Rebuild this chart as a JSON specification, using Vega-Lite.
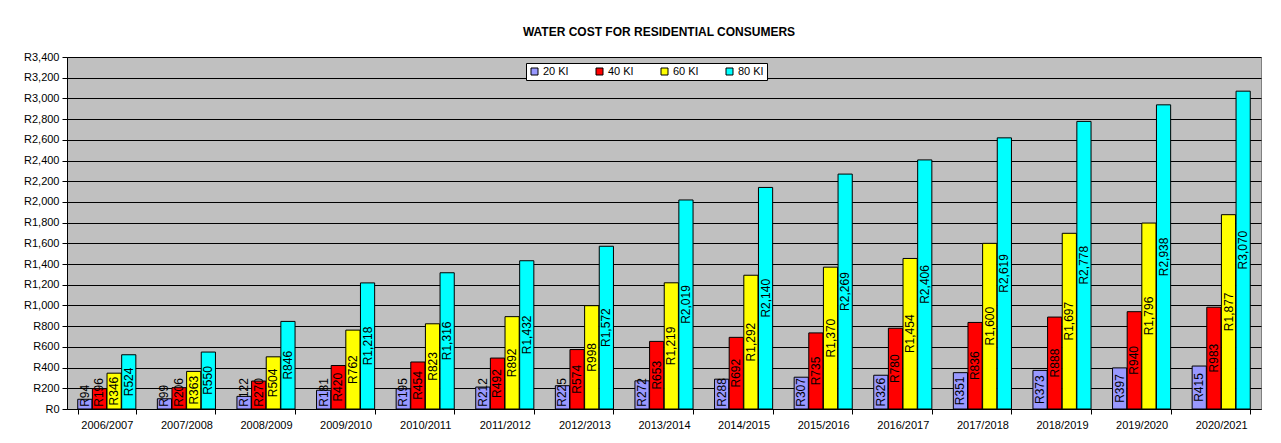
{
  "$schema": "https://vega.github.io/schema/vega-lite/v6.json",
  "width": 1194,
  "height": 352,
  "autosize": {"type": "none"},
  "padding": {"left": 67, "top": 57, "right": 20, "bottom": 34},
  "background": "white",
  "title": {"text": "WATER COST FOR RESIDENTIAL CONSUMERS", "font": "Liberation Sans", "fontSize": 12, "fontWeight": "bold", "color": "black", "offset": 12, "dx": -5},
  "config": {
    "locale": {"number": {"decimal": ".", "thousands": ",", "grouping": [3], "currency": ["R", ""]}},
    "view": {"fill": "#C0C0C0", "stroke": "#808080"},
    "font": "Liberation Sans"
  },
  "data": {"values": [
    {"year": "2006/2007", "series": "20 Kl", "value": 94},
    {"year": "2006/2007", "series": "40 Kl", "value": 196},
    {"year": "2006/2007", "series": "60 Kl", "value": 346},
    {"year": "2006/2007", "series": "80 Kl", "value": 524},
    {"year": "2007/2008", "series": "20 Kl", "value": 99},
    {"year": "2007/2008", "series": "40 Kl", "value": 206},
    {"year": "2007/2008", "series": "60 Kl", "value": 363},
    {"year": "2007/2008", "series": "80 Kl", "value": 550},
    {"year": "2008/2009", "series": "20 Kl", "value": 122},
    {"year": "2008/2009", "series": "40 Kl", "value": 270},
    {"year": "2008/2009", "series": "60 Kl", "value": 504},
    {"year": "2008/2009", "series": "80 Kl", "value": 846},
    {"year": "2009/2010", "series": "20 Kl", "value": 181},
    {"year": "2009/2010", "series": "40 Kl", "value": 420},
    {"year": "2009/2010", "series": "60 Kl", "value": 762},
    {"year": "2009/2010", "series": "80 Kl", "value": 1218},
    {"year": "2010/2011", "series": "20 Kl", "value": 195},
    {"year": "2010/2011", "series": "40 Kl", "value": 454},
    {"year": "2010/2011", "series": "60 Kl", "value": 823},
    {"year": "2010/2011", "series": "80 Kl", "value": 1316},
    {"year": "2011/2012", "series": "20 Kl", "value": 212},
    {"year": "2011/2012", "series": "40 Kl", "value": 492},
    {"year": "2011/2012", "series": "60 Kl", "value": 892},
    {"year": "2011/2012", "series": "80 Kl", "value": 1432},
    {"year": "2012/2013", "series": "20 Kl", "value": 225},
    {"year": "2012/2013", "series": "40 Kl", "value": 574},
    {"year": "2012/2013", "series": "60 Kl", "value": 998},
    {"year": "2012/2013", "series": "80 Kl", "value": 1572},
    {"year": "2013/2014", "series": "20 Kl", "value": 272},
    {"year": "2013/2014", "series": "40 Kl", "value": 653},
    {"year": "2013/2014", "series": "60 Kl", "value": 1219},
    {"year": "2013/2014", "series": "80 Kl", "value": 2019},
    {"year": "2014/2015", "series": "20 Kl", "value": 288},
    {"year": "2014/2015", "series": "40 Kl", "value": 692},
    {"year": "2014/2015", "series": "60 Kl", "value": 1292},
    {"year": "2014/2015", "series": "80 Kl", "value": 2140},
    {"year": "2015/2016", "series": "20 Kl", "value": 307},
    {"year": "2015/2016", "series": "40 Kl", "value": 735},
    {"year": "2015/2016", "series": "60 Kl", "value": 1370},
    {"year": "2015/2016", "series": "80 Kl", "value": 2269},
    {"year": "2016/2017", "series": "20 Kl", "value": 326},
    {"year": "2016/2017", "series": "40 Kl", "value": 780},
    {"year": "2016/2017", "series": "60 Kl", "value": 1454},
    {"year": "2016/2017", "series": "80 Kl", "value": 2406},
    {"year": "2017/2018", "series": "20 Kl", "value": 351},
    {"year": "2017/2018", "series": "40 Kl", "value": 836},
    {"year": "2017/2018", "series": "60 Kl", "value": 1600},
    {"year": "2017/2018", "series": "80 Kl", "value": 2619},
    {"year": "2018/2019", "series": "20 Kl", "value": 373},
    {"year": "2018/2019", "series": "40 Kl", "value": 888},
    {"year": "2018/2019", "series": "60 Kl", "value": 1697},
    {"year": "2018/2019", "series": "80 Kl", "value": 2778},
    {"year": "2019/2020", "series": "20 Kl", "value": 397},
    {"year": "2019/2020", "series": "40 Kl", "value": 940},
    {"year": "2019/2020", "series": "60 Kl", "value": 1796},
    {"year": "2019/2020", "series": "80 Kl", "value": 2938},
    {"year": "2020/2021", "series": "20 Kl", "value": 415},
    {"year": "2020/2021", "series": "40 Kl", "value": 983},
    {"year": "2020/2021", "series": "60 Kl", "value": 1877},
    {"year": "2020/2021", "series": "80 Kl", "value": 3070}
  ]},
  "encoding": {
    "x": {
      "field": "year", "type": "nominal",
      "scale": {"paddingInner": 0.27, "paddingOuter": 0.135},
      "axis": {"title": null, "labelAngle": 0, "tickBand": "extent", "domainColor": "black", "tickColor": "black", "tickSize": 5, "labelFontSize": 11, "labelColor": "black", "labelPadding": 5, "labelFont": "Liberation Sans"}
    },
    "xOffset": {"field": "series", "type": "nominal", "scale": {"paddingInner": 0.03}}
  },
  "layer": [
    {
      "mark": {"type": "bar", "stroke": "black", "strokeWidth": 1},
      "encoding": {
        "y": {
          "field": "value", "type": "quantitative",
          "scale": {"domain": [0, 3400], "nice": false},
          "axis": {"title": null, "values": [0,200,400,600,800,1000,1200,1400,1600,1800,2000,2200,2400,2600,2800,3000,3200,3400], "labelOverlap": false, "format": "$,.0f", "grid": true, "gridColor": "black", "gridOpacity": 1, "domainColor": "black", "tickColor": "black", "tickSize": 5, "labelFontSize": 11, "labelColor": "black", "labelFont": "Liberation Sans", "labelPadding": 3}
        },
        "color": {
          "field": "series", "type": "nominal",
          "scale": {"domain": ["20 Kl", "40 Kl", "60 Kl", "80 Kl"], "range": ["#9999FF", "#FF0000", "#FFFF00", "#00FFFF"]},
          "legend": {"title": null, "orient": "none", "legendX": 459, "legendY": 6, "direction": "horizontal", "fillColor": "white", "strokeColor": "black", "padding": 3, "symbolType": "square", "symbolSize": 49, "symbolStrokeColor": "black", "symbolStrokeWidth": 1, "labelFontSize": 11, "labelColor": "black", "labelFont": "Liberation Sans", "labelOffset": 3, "columnPadding": 25}
        }
      }
    },
    {
      "mark": {"type": "text", "angle": 270, "fontSize": 12, "baseline": "middle", "align": "center", "color": "black", "font": "Liberation Sans", "dx": {"expr": "max(0, (length(format(datum.value, ',')) + 1) * 3.4 + 3 - datum.value * 0.0518)"}},
      "encoding": {
        "y": {"field": "value", "type": "quantitative", "scale": {"domain": [0, 6800], "nice": false}, "axis": null},
        "text": {"field": "value", "type": "quantitative", "format": "$,.0f"}
      }
    }
  ],
  "resolve": {"scale": {"y": "independent"}}
}
